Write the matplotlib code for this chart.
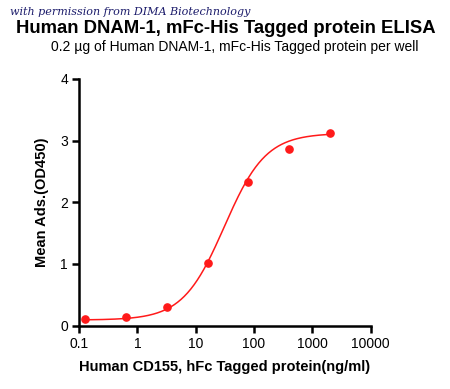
import numpy as np
import matplotlib
matplotlib.use('Agg')
from matplotlib import pyplot as plt

plt.rcParams['font.family'] = ['Liberation Sans', 'DejaVu Sans']

conc = [0.128, 0.64, 3.2, 16, 80, 400, 2000]
od450 = [0.10, 0.136, 0.30, 1.02, 2.33, 2.86, 3.13]

# 4PL fit estimates: bottom, top, ec50, hill
bottom, top, ec50, hill = 0.09, 3.12, 31.0, 1.22

xs = np.logspace(np.log10(conc[0]), np.log10(conc[-1]), 300)
fit = bottom + (top - bottom) / (1 + (ec50 / xs) ** hill)

fig = plt.figure(figsize=(4.5, 3.89), dpi=100)
ax = fig.add_axes([0.1756, 0.163, 0.648, 0.634])

red = '#ff1a1a'
ax.plot(xs, fit, color=red, lw=1.1)
ax.plot(conc, od450, 'o', color=red, ms=5.2, mec=red)

ax.set_xscale('log')
ax.set_xlim(0.1, 10000)
ax.set_ylim(0, 4)
ax.set_xticks([0.1, 1, 10, 100, 1000, 10000])
ax.set_xticklabels(['0.1', '1', '10', '100', '1000', '10000'])
ax.xaxis.set_minor_locator(matplotlib.ticker.NullLocator())
ax.set_yticks([0, 1, 2, 3, 4])

for s in ['top', 'right']:
    ax.spines[s].set_visible(False)
for s in ['left', 'bottom']:
    ax.spines[s].set_linewidth(1.8)
ax.tick_params(width=1.8, length=5, labelsize=10, pad=3)

ax.set_xlabel('Human CD155, hFc Tagged protein(ng/ml)', fontsize=10.5,
              fontweight='bold', labelpad=7)
ax.set_ylabel('Mean Ads.(OD450)', fontsize=10.5, fontweight='bold', labelpad=8)

fig.text(0.502, 0.928, 'Human DNAM-1, mFc-His Tagged protein ELISA',
         ha='center', va='center', fontsize=13.3, fontweight='bold')
fig.text(0.522, 0.878, '0.2 µg of Human DNAM-1, mFc-His Tagged protein per well',
         ha='center', va='center', fontsize=10)
fig.text(0.022, 0.968, 'with permission from DIMA Biotechnology',
         ha='left', va='center', fontsize=8, style='italic',
         family='DejaVu Serif', color='#1c1c6b')

fig.savefig('out.png', dpi=100)
